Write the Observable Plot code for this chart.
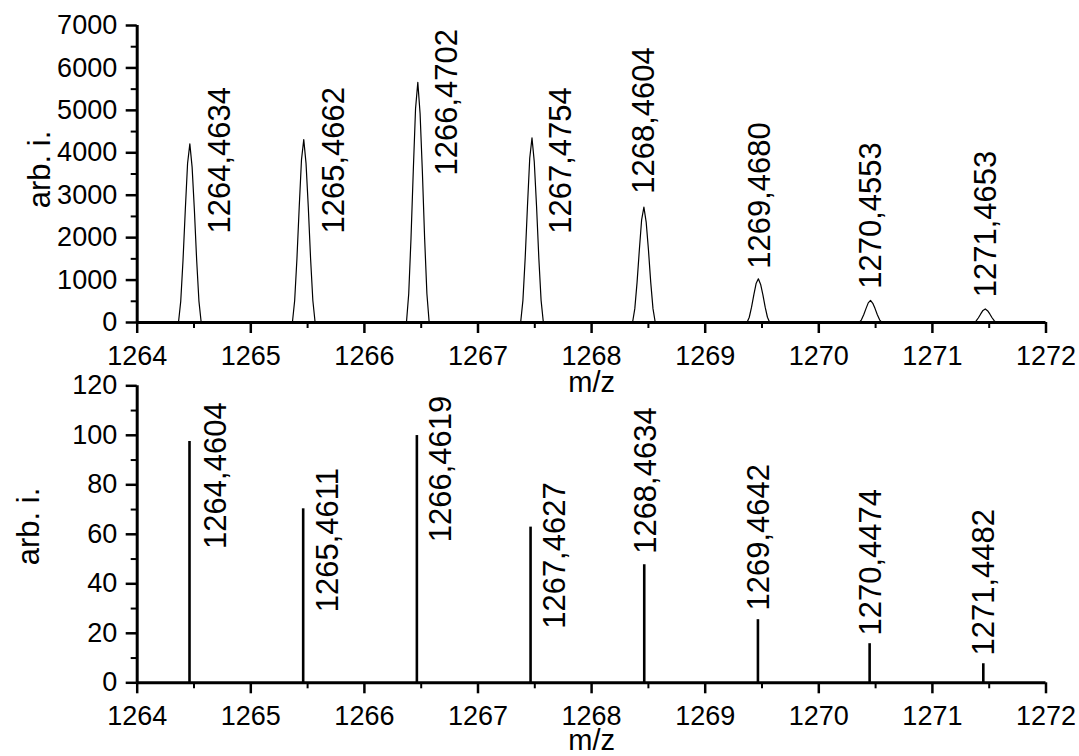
<!DOCTYPE html>
<html>
<head>
<meta charset="utf-8">
<script src="https://cdn.jsdelivr.net/npm/d3@7"></script>
<script src="https://cdn.jsdelivr.net/npm/@observablehq/plot@0.6"></script>
<style>
  html, body { margin: 0; padding: 0; background: #fff; }
  #chart { width: 1079px; height: 756px; overflow: hidden; }
  #chart svg { display: block; }
  #chart .lower { margin-top: -30px; }
</style>
</head>
<body>
<div id="chart"></div>
<script>
// Measured (profile) spectrum: apex m/z and apex intensity of each isotope peak
const peakMz = [1264.4634, 1265.4662, 1266.4702, 1267.4754, 1268.4604, 1269.4680, 1270.4553, 1271.4653];
const peakHeight = [4210, 4310, 5660, 4350, 2720, 1030, 520, 320];
// Common peak shape: m/z offset from the apex and fraction of apex intensity
const profileOffset = [-0.10, -0.08, -0.06, -0.04, -0.02, 0, 0.02, 0.04, 0.06, 0.08, 0.10];
const profileLevel = [0, 0.12, 0.35, 0.63, 0.89, 1, 0.87, 0.63, 0.35, 0.12, 0];
// Where each measured-peak annotation starts (m/z, intensity)
const peakLabelMz = [1264.726, 1265.733, 1266.730, 1267.727, 1268.461, 1269.479, 1270.463, 1271.475];
const peakLabelLevel = [2098, 2098, 3464, 2090, 3033, 1266, 794, 596];

// Theoretical (stick) spectrum
const stickMz = [1264.4604, 1265.4611, 1266.4619, 1267.4627, 1268.4634, 1269.4642, 1270.4474, 1271.4482];
const stickHeight = [97.5, 70.3, 99.9, 62.9, 47.7, 25.5, 15.8, 7.7];
const stickLabelMz = [1264.697, 1265.681, 1266.671, 1267.676, 1268.476, 1269.473, 1270.456, 1271.453];
const stickLabelLevel = [54.1, 28.5, 56.8, 21.8, 52.1, 29.2, 19.1, 11.0];

// Axis ticks
const mzTicks = [1264, 1265, 1266, 1267, 1268, 1269, 1270, 1271, 1272];
const mzMinorTicks = [1264.5, 1265.5, 1266.5, 1267.5, 1268.5, 1269.5, 1270.5, 1271.5];
const upperTicks = [0, 1000, 2000, 3000, 4000, 5000, 6000, 7000];
const upperMinorTicks = [500, 1500, 2500, 3500, 4500, 5500, 6500];
const lowerTicks = [0, 20, 40, 60, 80, 100, 120];
const lowerMinorTicks = [10, 30, 50, 70, 90, 110];

const xTitle = "m/z";
const yTitle = "arb. i.";

const FONT = "'Liberation Sans', Arial, Helvetica, sans-serif";
const mzLabel = (v) => v.toFixed(4).replace(".", ",");

// Rows for the profile lines, one series per peak
const profileRows = [];
peakMz.forEach((mz, i) => {
  profileOffset.forEach((off, j) => {
    profileRows.push({peak: i, mz: mz + off, level: peakHeight[i] * profileLevel[j]});
  });
});
const peakLabels = peakMz.map((mz, i) => ({x: peakLabelMz[i], y: peakLabelLevel[i], text: mzLabel(mz)}));
const sticks = stickMz.map((mz, i) => ({mz, level: stickHeight[i]}));
const stickLabels = stickMz.map((mz, i) => ({x: stickLabelMz[i], y: stickLabelLevel[i], text: mzLabel(mz)}));

function frameMarks(yTicks, yMinor, yMax, titleDx, titleDy, xTitleDy) {
  return [
    Plot.axisX({ticks: mzTicks, tickSize: 11, tickPadding: 12, tickFormat: (d) => String(d),
      label: null, strokeWidth: 2.5, fontSize: 27}),
    Plot.axisX({ticks: mzMinorTicks, tickSize: 6, tickFormat: () => "", label: null, strokeWidth: 2}),
    Plot.axisY({ticks: yTicks, tickSize: 11, tickPadding: 9, tickFormat: (d) => String(d),
      label: null, strokeWidth: 2.5, fontSize: 27}),
    Plot.axisY({ticks: yMinor, tickSize: 6, tickFormat: () => "", label: null, strokeWidth: 2}),
    Plot.ruleY([0], {strokeWidth: 3, stroke: "black"}),
    Plot.ruleX([1264], {y1: 0, y2: yMax, strokeWidth: 3, stroke: "black"}),
    Plot.text([xTitle], {text: (d) => d, frameAnchor: "bottom", lineAnchor: "bottom", dy: xTitleDy,
      fontSize: 29, fill: "black"}),
    Plot.text([yTitle], {text: (d) => d, frameAnchor: "left", rotate: -90, lineAnchor: "middle",
      textAnchor: "middle", dx: titleDx, dy: titleDy, fontSize: 31, fill: "black"})
  ];
}

// Upper panel: measured profile spectrum
const upper = Plot.plot({
  width: 1079, height: 400,
  marginLeft: 136.7, marginRight: 33.5, marginTop: 25, marginBottom: 78,
  style: {fontFamily: FONT, fontSize: "27px", color: "black", background: "white", overflow: "visible"},
  x: {domain: [1264, 1272]},
  y: {domain: [0, 7000]},
  marks: [
    ...frameMarks(upperTicks, upperMinorTicks, 7000, -97.5, -4.5, 69.5),
    Plot.line(profileRows, {x: "mz", y: "level", z: "peak", stroke: "black", strokeWidth: 1.2,
      curve: "linear"}),
    Plot.text(peakLabels, {x: "x", y: "y", text: "text", rotate: -90, textAnchor: "start",
      lineAnchor: "middle", fontSize: 31, fill: "black"})
  ]
});

// Lower panel: theoretical stick spectrum
const lower = Plot.plot({
  width: 1079, height: 386,
  marginLeft: 136.7, marginRight: 33.5, marginTop: 15.3, marginBottom: 73.7,
  style: {fontFamily: FONT, fontSize: "27px", color: "black", background: "transparent", overflow: "visible"},
  x: {domain: [1264, 1272]},
  y: {domain: [0, 120]},
  marks: [
    ...frameMarks(lowerTicks, lowerMinorTicks, 120, -108.5, -7.8, 67.5),
    Plot.ruleX(sticks, {x: "mz", y1: 0, y2: "level", stroke: "black", strokeWidth: 2.6}),
    Plot.text(stickLabels, {x: "x", y: "y", text: "text", rotate: -90, textAnchor: "start",
      lineAnchor: "middle", fontSize: 31, fill: "black"})
  ]
});
lower.classList.add("lower");

const chart = document.getElementById("chart");
chart.append(upper, lower);
</script>
</body>
</html>
